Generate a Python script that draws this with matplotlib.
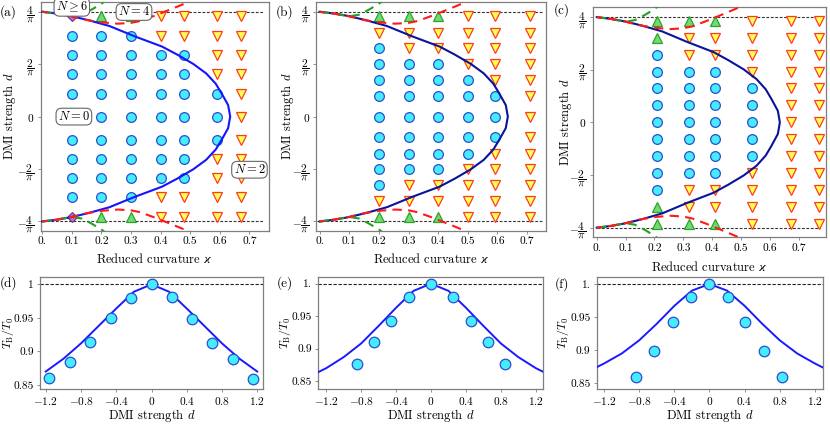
import numpy as np
import matplotlib
matplotlib.use('Agg')
import matplotlib.pyplot as plt

plt.rcParams['font.family'] = 'serif'
plt.rcParams['font.serif'] = ['cmr10', 'DejaVu Serif']
plt.rcParams['mathtext.fontset'] = 'cm'
plt.rcParams['axes.unicode_minus'] = False
plt.rcParams['axes.formatter.use_mathtext'] = True

D_CRIT = 4 / np.pi

# ---------------- top row: phase diagrams ----------------
kappa_a = [0.10, 0.20, 0.30, 0.40, 0.48, 0.59, 0.67]
d_a = [1.22, 0.98, 0.75, 0.52, 0.28, 0.0, -0.28, -0.52, -0.75, -0.98, -1.22]
states_a = ["D^^vvvv",
            "ooovvvv",
            "ooooovv",
            "ooooovv",
            "oooooov",
            "oooooov",
            "oooooov",
            "ooooovv",
            "ooooovv",
            "ooovvvv",
            "D^^vvvv"]

kappa_b = [0.20, 0.30, 0.40, 0.50, 0.59, 0.71]
d_b = [1.22, 1.02, 0.83, 0.64, 0.45, 0.25, 0.0, -0.25, -0.45, -0.64, -0.83, -1.02, -1.22]
states_b = ["^^^vvv",
            "vvvvvv",
            "ovvvvv",
            "ooovvv",
            "oooovv",
            "ooooov",
            "ooooov",
            "ooooov",
            "oooovv",
            "ooovvv",
            "ovvvvv",
            "vvvvvv",
            "^^^vvv"]

kappa_c = [0.21, 0.32, 0.41, 0.54, 0.675, 0.77]
d_c = [1.23, 1.025, 0.82, 0.615, 0.41, 0.205, 0.0, -0.205, -0.41, -0.615, -0.82, -1.025, -1.23]
states_c = ["^^^vvv",
            "^vvvvv",
            "ovvvvv",
            "ooovvv",
            "oooovv",
            "oooovv",
            "oooovv",
            "oooovv",
            "oooovv",
            "ooovvv",
            "ovvvvv",
            "^vvvvv",
            "^^^vvv"]

# theoretical boundary (blue)
bound_d = [1.273, 1.25, 1.22, 1.17, 1.10, 0.975, 0.85, 0.753, 0.64, 0.524, 0.40, 0.282, 0.14, 0.0,
           -0.14, -0.282, -0.40, -0.524, -0.64, -0.753, -0.85, -0.975, -1.10, -1.17, -1.22, -1.25, -1.273]
bound_k = [0.0, 0.052, 0.099, 0.157, 0.227, 0.312, 0.405, 0.456, 0.510, 0.554, 0.586, 0.606, 0.628, 0.635,
           0.628, 0.606, 0.586, 0.554, 0.510, 0.456, 0.405, 0.312, 0.227, 0.157, 0.099, 0.052, 0.0]

# red dashed (upper and lower branches)
red_k = [0.0, 0.05, 0.10, 0.15, 0.20, 0.256, 0.30, 0.33, 0.38, 0.436, 0.50, 0.52]
red_d_up = [1.273, 1.25, 1.217, 1.173, 1.144, 1.128, 1.138, 1.16, 1.225, 1.305, 1.40, 1.44]
red_d_lo = [-v for v in red_d_up]

# green dashed
green_k = [0.0, 0.05, 0.10, 0.133, 0.166, 0.20, 0.217, 0.23]
green_d_up = [1.273, 1.25, 1.217, 1.237, 1.297, 1.37, 1.418, 1.46]
green_d_lo = [-v for v in green_d_up]

# ---------------- bottom row: T_B/T_0 ----------------
dm_d = [-1.16, -0.93, -0.70, -0.46, -0.23, 0.0, 0.23, 0.46, 0.69, 0.92, 1.15]
T_d = [0.861, 0.884, 0.914, 0.950, 0.980, 1.000, 0.981, 0.949, 0.912, 0.888, 0.859]
curve_dd = [-1.2, -1.0, -0.8, -0.6, -0.4, -0.2, 0.0, 0.2, 0.4, 0.6, 0.8, 1.0, 1.2]
curve_Td = [0.870, 0.889, 0.912, 0.938, 0.964, 0.989, 1.000, 0.989, 0.964, 0.938, 0.912, 0.889, 0.870]

dm_e = [-0.85, -0.655, -0.457, -0.255, 0.0, 0.255, 0.457, 0.655, 0.85]
T_e = [0.877, 0.911, 0.942, 0.980, 1.000, 0.980, 0.942, 0.911, 0.877]
curve_de = [-1.29, -1.2, -1.0, -0.8, -0.6, -0.4, -0.2, 0.0, 0.2, 0.4, 0.6, 0.8, 1.0, 1.2, 1.29]
curve_Te = [0.864, 0.870, 0.887, 0.908, 0.935, 0.963, 0.989, 1.000, 0.989, 0.963, 0.935, 0.908, 0.887, 0.870, 0.864]

dm_f = [-0.84, -0.63, -0.42, -0.21, 0.0, 0.21, 0.41, 0.62, 0.83]
T_f = [0.860, 0.899, 0.943, 0.981, 1.000, 0.981, 0.943, 0.899, 0.860]
curve_df = [-1.29, -1.2, -1.0, -0.8, -0.6, -0.4, -0.2, 0.0, 0.2, 0.4, 0.6, 0.8, 1.0, 1.2, 1.29]
curve_Tf = [0.874, 0.880, 0.895, 0.915, 0.940, 0.967, 0.990, 1.000, 0.990, 0.967, 0.940, 0.915, 0.895, 0.880, 0.874]

# ---------------- styling ----------------
STYLE = {
    'o': dict(marker='o', ms=7.0, mfc='#45ecfc', mec='#2a4fd0', mew=0.9),
    'v': dict(marker='v', ms=6.8, mfc='#ffff55', mec='#ff3b1f', mew=0.9),
    '^': dict(marker='^', ms=6.8, mfc='#6fdc6f', mec='#2fa02f', mew=0.9),
    'D': dict(marker='D', ms=4.6, mfc='#c06ed0', mec='#70307f', mew=0.8),
}
FRAME = '#7f7f7f'
TICKFS = 8.2
LABFS = 9
W, H = 830.0, 424.0

fig = plt.figure(figsize=(8.3, 4.24), dpi=100)


def px_axes(l, t, r, b):
    return fig.add_axes([l / W, 1 - b / H, (r - l) / W, (b - t) / H])


def add_labels(ax, l, t, r, b, xtext, ytext, xlab_y, ylab_x, yfs=LABFS):
    # axis titles placed in figure pixels
    fig.text((l + r) / 2 / W, 1 - xlab_y / H, xtext, fontsize=LABFS,
             ha='center', va='center')
    fig.text(ylab_x / W, 1 - (t + b) / 2 / H, ytext, fontsize=yfs,
             ha='center', va='center', rotation=90)


def style_frame(ax):
    for s in ax.spines.values():
        s.set_color(FRAME)
        s.set_linewidth(0.9)
    ax.tick_params(direction='out', length=2.5, width=0.6, color=FRAME,
                   labelsize=TICKFS, pad=2)


def phase_panel(box_px, kap, dd, states, blue, xlim, dash_x, xlab_y, ylab_x):
    ax = px_axes(*box_px)
    for i, row in enumerate(states):
        for j, ch in enumerate(row):
            ax.plot(kap[j], dd[i], ls='none', zorder=3, **STYLE[ch])
    ax.plot(bound_k, bound_d, color=blue, lw=1.5, zorder=4)
    ax.plot(green_k, green_d_up, color='#22a022', lw=1.5, ls=(0, (4.5, 3)), zorder=5)
    ax.plot(green_k, green_d_lo, color='#22a022', lw=1.5, ls=(0, (4.5, 3)), zorder=5)
    ax.plot(red_k, red_d_up, color='#ff1a1a', lw=1.5, ls=(2, (4.5, 3)), zorder=5)
    ax.plot(red_k, red_d_lo, color='#ff1a1a', lw=1.5, ls=(2, (4.5, 3)), zorder=5)
    for y in (D_CRIT, -D_CRIT):
        ax.plot(dash_x, [y, y], color='#333333', lw=0.8, ls=(0, (2.5, 1.5)), zorder=2)
    ax.set_xlim(*xlim)
    ax.set_ylim(-1.385, 1.395)
    ax.set_xticks([0, 0.1, 0.2, 0.3, 0.4, 0.5, 0.6, 0.7])
    ax.set_xticklabels(['0.', '0.1', '0.2', '0.3', '0.4', '0.5', '0.6', '0.7'])
    ax.set_yticks([-D_CRIT, -2 / np.pi, 0, 2 / np.pi, D_CRIT])
    ax.set_yticklabels([r'$-\dfrac{4}{\pi}$', r'$-\dfrac{2}{\pi}$', r'$0$',
                        r'$\dfrac{2}{\pi}$', r'$\dfrac{4}{\pi}$'], fontsize=7.8)
    style_frame(ax)
    add_labels(ax, *box_px, r'Reduced curvature $\varkappa$', r'DMI strength $d$',
               xlab_y, ylab_x)
    return ax


def temp_panel(box_px, dm, T, cd, cT, xlim, ylim, one_label, ylab_x):
    ax = px_axes(*box_px)
    ax.plot(cd, cT, color='#1a1aff', lw=1.4, zorder=3)
    ax.axhline(1.0, color='#222222', lw=0.8, ls=(0, (3, 1.5)), zorder=2)
    ax.plot(dm, T, ls='none', zorder=4, **dict(STYLE['o'], ms=7.6))
    ax.set_xlim(*xlim)
    ax.set_ylim(*ylim)
    ax.set_xticks([-1.2, -0.8, -0.4, 0, 0.4, 0.8, 1.2])
    ax.set_xticklabels([r'$-1.2$', r'$-0.8$', r'$-0.4$', r'$0$', r'$0.4$', r'$0.8$', r'$1.2$'])
    ax.set_yticks([0.85, 0.9, 0.95, 1.0])
    ax.set_yticklabels(['0.85', '0.9', '0.95', one_label])
    style_frame(ax)
    add_labels(ax, *box_px, r'DMI strength $d$', r'$T_{\mathrm{B}}/T_0$', 416, ylab_x,
               yfs=8.6)
    return ax


ax_a = phase_panel((40.7, 1.7, 268.7, 230.7), kappa_a, d_a, states_a, '#1414ff',
                   (-0.005, 0.765), [0.0, 0.75], 259, 10)
box = dict(boxstyle='round,pad=0.15,rounding_size=0.45', fc='white', ec='#666666', lw=0.8)
ax_a.text(0.10, 1.33, r'$N \geq 6$', fontsize=9, ha='center', va='center', bbox=box, zorder=6)
ax_a.text(0.31, 1.27, r'$N = 4$', fontsize=9, ha='center', va='center', bbox=box, zorder=6)
ax_a.text(0.107, 0.0, r'$N = 0$', fontsize=9, ha='center', va='center', bbox=box, zorder=6)
ax_a.text(0.70, -0.645, r'$N = 2$', fontsize=9, ha='center', va='center', bbox=box, zorder=6)

phase_panel((316.0, 1.7, 545.5, 230.7), kappa_b, d_b, states_b, '#0a149a',
            (-0.012, 0.762), [-0.01, 0.75], 259, 287)
phase_panel((592.7, 7.0, 826.0, 237.0), kappa_c, d_c, states_c, '#0a149a',
            (-0.014, 0.795), [0.0, 0.775], 267, 566)

temp_panel((40.0, 277.0, 263.0, 389.0), dm_d, T_d, curve_dd, curve_Td,
           (-1.265, 1.265), (0.844, 1.011), '1', 8)
temp_panel((318.3, 277.0, 543.3, 389.0), dm_e, T_e, curve_de, curve_Te,
           (-1.29, 1.285), (0.838, 1.0103), '1.', 285)
temp_panel((596.7, 277.3, 822.7, 389.0), dm_f, T_f, curve_df, curve_Tf,
           (-1.285, 1.29), (0.8414, 1.0101), '1.', 563)

for lab, x, y in [('(a)', 8, 12), ('(b)', 285, 12), ('(c)', 562, 10),
                  ('(d)', 8, 283), ('(e)', 285, 283), ('(f)', 562, 284)]:
    fig.text(x / W, 1 - y / H, lab, fontsize=9.5, ha='center', va='center')

fig.savefig('out.png', dpi=100)
